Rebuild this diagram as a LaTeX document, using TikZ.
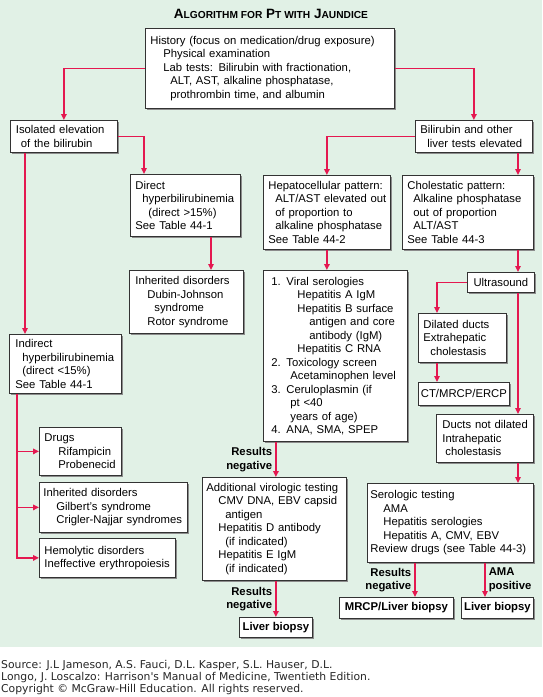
\documentclass[tikz,border=0pt]{standalone}
\usepackage{fontspec}
\setmainfont{Liberation Sans}
\newfontfamily\srcfont{DejaVu Sans}
\usetikzlibrary{positioning,arrows.meta,shadows}

\definecolor{mint}{RGB}{225,241,230}
\definecolor{jred}{RGB}{228,24,80}
\newcommand{\indt}[1]{\hspace*{#1pt}}
\newcommand{\smc}[1]{{\fontsize{10.2}{12}\selectfont #1}}

\tikzset{
  box/.style={rectangle, draw=black!80, line width=0.8pt, fill=white, anchor=north west,
    align=left, inner xsep=5pt, inner ysep=3pt, font=\fontsize{11.3}{13.5}\selectfont,
    execute at begin node={\rightskip=-30pt plus 1fil},
    drop shadow={shadow xshift=1.6pt, shadow yshift=-1.6pt, fill=black!45, opacity=1}},
  tag/.style={box, align=center, inner xsep=2pt, font=\fontsize{11.3}{13.5}\selectfont},
  link/.style={draw=jred, line width=1.5pt},
  arr/.style={link, -{Triangle[length=6pt,width=5.5pt]}},
  lbl/.style={font=\fontsize{11.3}{13.5}\selectfont\bfseries, inner sep=3pt}
}

\begin{document}
\begin{tikzpicture}[x=1pt, y=-1pt]
\useasboundingbox (0,0) rectangle (542,697);
\fill[mint] (0,0) rectangle (542,647);

% Title
\node (ttl) at (271,14) {\fontsize{13.5}{15}\selectfont\bfseries A\smc{LGORITHM FOR} P\smc{T WITH} J\smc{AUNDICE}};

% Top
\node (hist) [box, minimum width=249, text width=239, minimum height=80] at (145,28)
  {History (focus on medication/drug exposure)\\
   \indt{13}Physical examination\\
   \indt{13}Lab tests: Bilirubin with fractionation,\\
   \indt{20}ALT, AST, alkaline phosphatase,\\
   \indt{20}prothrombin time, and albumin};

\node (isol) [box, minimum width=107, text width=96, inner xsep=5.5pt, minimum height=32] at (10,120)
  {Isolated elevation\\ \indt{5}of the bilirubin};
\node (bili) [box, minimum width=117, text width=107, minimum height=32] at (415,120)
  {Bilirubin and other\\ \indt{7}liver tests elevated};

% Left branch
\node (direct) [box, minimum width=110, text width=100, minimum height=62] at (130,174)
  {Direct\\ \indt{7}hyperbilirubinemia\\ \indt{13}(direct >15\%)\\ See Table 44-1};
\node (inh1) [box, minimum width=114, text width=102, inner xsep=6pt, minimum height=63] at (129,270)
  {Inherited disorders\\ \indt{12}Dubin-Johnson\\ \indt{19}syndrome\\ \indt{12}Rotor syndrome};
\node (indir) [box, minimum width=112, text width=100, inner xsep=6pt, minimum height=59] at (9,334)
  {Indirect\\ \indt{7}hyperbilirubinemia\\ \indt{7}(direct <15\%)\\ See Table 44-1};
\node (drugs) [box, minimum width=82, text width=72, minimum height=48] at (39,427)
  {Drugs\\ \indt{14}Rifampicin\\ \indt{14}Probenecid};
\node (inh2) [box, minimum width=148, text width=140, inner xsep=4pt, minimum height=50] at (39,482)
  {Inherited disorders\\ \indt{13}Gilbert's syndrome\\ \indt{13}Crigler-Najjar syndromes};
\node (hemo) [box, minimum width=136, text width=126, minimum height=39] at (39,538)
  {Hemolytic disorders\\ Ineffective erythropoiesis};

% Middle branch
\node (hepato) [box, minimum width=127, text width=117, minimum height=74] at (263,175)
  {Hepatocellular pattern:\\ \indt{7}ALT/AST elevated out\\ \indt{7}of proportion to\\ \indt{7}alkaline phosphatase\\ See Table 44-2};
\node (viral) [box, minimum width=144, text width=128, inner xsep=8pt, minimum height=171] at (263,270)
  {1. Viral serologies\\
   \indt{26}Hepatitis A IgM\\
   \indt{26}Hepatitis B surface\\
   \indt{38}antigen and core\\
   \indt{38}antibody (IgM)\\
   \indt{26}Hepatitis C RNA\\
   2. Toxicology screen\\
   \indt{19}Acetaminophen level\\
   3. Ceruloplasmin (if\\
   \indt{19}pt <40\\
   \indt{19}years of age)\\
   4. ANA, SMA, SPEP};
\node (addv) [box, minimum width=144, text width=136, inner xsep=4pt, minimum height=103] at (202,477)
  {Additional virologic testing\\
   \indt{12}CMV DNA, EBV capsid\\
   \indt{19}antigen\\
   \indt{12}Hepatitis D antibody\\
   \indt{19}(if indicated)\\
   \indt{12}Hepatitis E IgM\\
   \indt{19}(if indicated)};
\node (lb1) [tag, font=\fontsize{11.3}{13.5}\selectfont\bfseries, minimum width=73, minimum height=20] at (239,617) {Liver biopsy};

% Right branch
\node (chol) [box, minimum width=131, text width=121, minimum height=74] at (402,175)
  {Cholestatic pattern:\\ \indt{6}Alkaline phosphatase\\ \indt{6}out of proportion\\ \indt{6}ALT/AST\\ See Table 44-3};
\node (ultra) [tag, minimum width=67, minimum height=20] at (467,272) {Ultrasound};
\node (dil) [box, minimum width=88, text width=78, minimum height=49] at (418,313)
  {Dilated ducts\\ Extrahepatic\\ \indt{7}cholestasis};
\node (ct) [tag, minimum width=91, minimum height=23] at (418,382) {CT/MRCP/ERCP};
\node (ducts) [box, minimum width=97, text width=85, inner xsep=6pt, minimum height=48] at (436,414)
  {Ducts not dilated\\ Intrahepatic\\ \indt{3}cholestasis};
\node (sero) [box, minimum width=166, text width=160, inner xsep=3pt, minimum height=79] at (367,483)
  {Serologic testing\\
   \indt{13}AMA\\
   \indt{13}Hepatitis serologies\\
   \indt{13}Hepatitis A, CMV, EBV\\
   Review drugs (see Table 44-3)};
\node (mrcp) [tag, font=\fontsize{11.3}{13.5}\selectfont\bfseries, minimum width=114, minimum height=21] at (339,597) {MRCP/Liver biopsy};
\node (lb2) [tag, font=\fontsize{11.3}{13.5}\selectfont\bfseries, minimum width=72, minimum height=21] at (461,597) {Liver biopsy};

% Column guides
\coordinate (lcol) at (17,0);
\coordinate (rcol) at (518,0);

% Connectors
\draw[arr] (hist.west) -| (isol.north);
\draw[arr] (hist.east) -| (bili.north);
\draw[arr] (isol.east) -| ([xshift=14pt]direct.north west);
\draw[arr] ([xshift=81pt]direct.south west) -- ([xshift=81pt]direct.south west |- inh1.north);
\draw[arr] ([xshift=15pt]isol.south west) -- ([xshift=15pt]isol.south west |- indir.north);
\draw[arr] (lcol |- indir.south) |- (hemo.west);
\draw[arr] (lcol |- drugs.west) -- (drugs.west);
\draw[arr] (lcol |- inh2.west) -- (inh2.west);

\draw[arr] (bili.west) -| (hepato.north);
\draw[arr] (rcol |- bili.south) -- (rcol |- chol.north);
\draw[arr] (hepato.south) -- (hepato.south |- viral.north);
\draw[arr] (viral.south -| lb1) -- node[lbl, left, align=right] {Results\\negative} (addv.north -| lb1);
\draw[arr] (addv.south -| lb1) -- node[lbl, left, align=right] {Results\\negative} (lb1.north);

\draw[arr] (rcol |- chol.south) -- (rcol |- ultra.north);
\draw[arr] (ultra.west) -| ([xshift=19pt]dil.north west);
\draw[arr] ([xshift=19pt]dil.south west) -- ([xshift=19pt]dil.south west |- ct.north);
\draw[arr] (rcol |- ultra.south) -- (rcol |- ducts.north);
\draw[arr] (rcol |- ducts.south) -- (rcol |- sero.north);
\draw[arr] ([xshift=76pt]mrcp.north west |- sero.south) -- node[lbl, left, align=right] {Results\\negative} ([xshift=76pt]mrcp.north west);
\draw[arr] ([xshift=24pt]lb2.north west |- sero.south) -- node[lbl, right, align=left] {AMA\\positive} ([xshift=24pt]lb2.north west);

% Source line
\node (src) [anchor=north west, inner sep=0pt, align=left, text=black!85,
  font=\srcfont\fontsize{10.8}{12}\selectfont] at (1,660)
  {Source: J.L Jameson, A.S. Fauci, D.L. Kasper, S.L. Hauser, D.L.\\
   Longo, J. Loscalzo: Harrison's Manual of Medicine, Twentieth Edition.\\
   Copyright \textcopyright{} McGraw-Hill Education. All rights reserved.};
\end{tikzpicture}
\end{document}
